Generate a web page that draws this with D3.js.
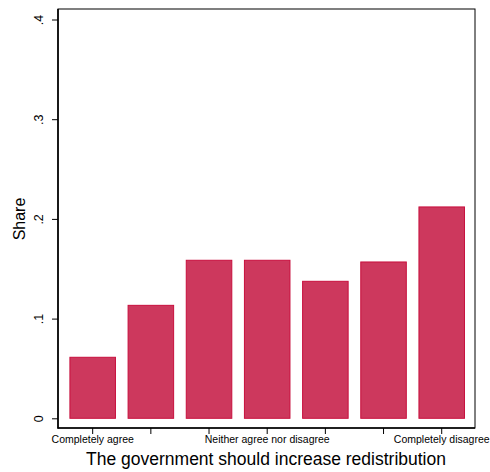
<!DOCTYPE html>
<html><head><meta charset="utf-8">
<script src="https://cdn.jsdelivr.net/npm/d3@7"></script>
<style>body{margin:0;background:#fff}svg{display:block;font-family:"Liberation Sans",Arial,sans-serif}</style>
</head><body><svg id="c" width="490" height="472"></svg>
<script>
const categories = ["1","2","3","4","5","6","7"];
const shares = [0.0612, 0.1133, 0.1585, 0.1585, 0.1374, 0.1568, 0.2120];
const yTicks = [0, 0.1, 0.2, 0.3, 0.4];
const yTickLabels = ["0", ".1", ".2", ".3", ".4"];
const xTickLabels = {"1":"Completely agree","4":"Neither agree nor disagree","7":"Completely disagree"};
const xTitle = "The government should increase redistribution";
const yTitle = "Share";

const svg = d3.select("#c");
const frame = {l:58, r:475, t:9, b:428};
const x = d3.scaleBand().domain(categories).range([63.6, 470.8]).paddingInner(0.2).paddingOuter(0.1);
const y = d3.scaleLinear().domain([0, 0.4]).range([418.3, 19.5]);

svg.append("rect").attr("x",frame.l).attr("y",frame.t).attr("width",frame.r-frame.l).attr("height",frame.b-frame.t)
  .attr("fill","none").attr("stroke","#000").attr("stroke-width",1);

svg.append("g").selectAll("rect").data(categories).join("rect")
  .attr("x", d=>x(d)+0.5).attr("width", x.bandwidth()-1)
  .attr("y", (d,i)=>y(shares[i])).attr("height",(d,i)=>y(0)-y(shares[i]))
  .attr("fill","#cd385d").attr("stroke","#c80f3d").attr("stroke-width",1);

// Y axis
const yAxis = d3.axisLeft(y).tickValues(yTicks).tickSize(6).tickFormat((d,i)=>yTickLabels[i]);
const gy = svg.append("g").attr("transform",`translate(${frame.l},0)`).call(yAxis);
gy.select(".domain").remove();
gy.selectAll(".tick line").attr("stroke","#000");
gy.selectAll(".tick text").attr("font-size",12.5).attr("fill","#000")
  .attr("x",0).attr("text-anchor","middle")
  .attr("transform","translate(-19,0) rotate(-90)").attr("dy","0.35em");
svg.append("line").attr("x1",frame.l).attr("x2",frame.l).attr("y1",frame.t).attr("y2",frame.b+0.5).attr("stroke","#000").attr("stroke-width",1.6);

// X axis
const xAxis = d3.axisBottom(x).tickSize(6).tickFormat(d=>xTickLabels[d]||"");
const gx = svg.append("g").attr("transform",`translate(0,${frame.b})`).call(xAxis);
gx.select(".domain").remove();
gx.selectAll(".tick line").attr("stroke","#000");
gx.selectAll(".tick text").attr("font-size",10.5).attr("fill","#000").attr("y",8).attr("dy","0.71em");
svg.append("line").attr("x1",frame.l-0.5).attr("x2",frame.r).attr("y1",frame.b).attr("y2",frame.b).attr("stroke","#000").attr("stroke-width",1.6);

svg.append("text").attr("x",266).attr("y",465).attr("text-anchor","middle").attr("font-size",17.5).attr("fill","#000").text(xTitle);
svg.append("text").attr("transform","translate(25,219) rotate(-90)").attr("text-anchor","middle").attr("font-size",16).attr("fill","#000").text(yTitle);
</script></body></html>
